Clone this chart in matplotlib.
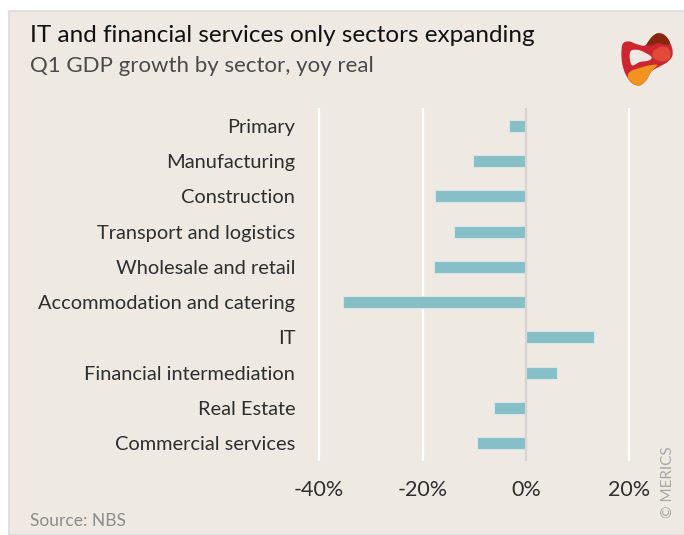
import matplotlib.pyplot as plt
from matplotlib.patches import Rectangle, PathPatch
from matplotlib.path import Path
import numpy as np

# data
sectors = ["Primary", "Manufacturing", "Construction", "Transport and logistics",
           "Wholesale and retail", "Accommodation and catering", "IT",
           "Financial intermediation", "Real Estate", "Commercial services"]
growth = [-3.2, -10.2, -17.5, -14.0, -17.8, -35.3, 13.2, 6.0, -6.1, -9.4]
xticks = [-40, -20, 0, 20]
xtick_labels = ["-40%", "-20%", "0%", "20%"]

BG = "#EEE9E3"
BAR = "#86BFC6"
TXT = "#2e2e2e"
GREY = "#8c8c8c"

plt.rcParams['font.family'] = ['Lato', 'DejaVu Sans']

W, H = 684, 535
fig = plt.figure(figsize=(W / 100, H / 100), dpi=100)
fig.patch.set_facecolor("white")

# beige panel with thin border
fig.patches.append(Rectangle((9 / W, 0), 1, (H - 11) / H, transform=fig.transFigure,
                             facecolor=BG, edgecolor="#dcdcdc", lw=1.2, zorder=-10))

ax = fig.add_axes([303.5 / W, 74 / H, 341.5 / W, 353 / H])
ax.set_facecolor("none")
y = np.arange(len(sectors))
ax.barh(y, growth, height=0.34, color=BAR, edgecolor="#d8e6e6", linewidth=0.8, zorder=3)
ax.set_xlim(-43, 23)
ax.set_ylim(len(sectors) - 0.5, -0.5)

for t in xticks:
    if t == 0:
        ax.axvline(t, color="#d6d3d0", lw=1.6, zorder=4)
    else:
        ax.axvline(t, color="white", lw=1.6, zorder=1)

for s in ax.spines.values():
    s.set_visible(False)
ax.set_yticks(y)
ax.set_yticklabels(sectors, fontsize=14.4, color=TXT)
ax.set_xticks(xticks)
ax.set_xticklabels(xtick_labels, fontsize=15.5, color=TXT)
ax.tick_params(length=0)
ax.tick_params(axis="y", pad=6)
ax.tick_params(axis="x", pad=14)

fig.text(30 / W, 1 - 36 / H, "IT and financial services only sectors expanding",
         fontsize=17.5, color="#111111", va="center", ha="left")
fig.text(30 / W, 1 - 66 / H, "Q1 GDP growth by sector, yoy real",
         fontsize=16, color="#4a4a4a", va="center", ha="left")
fig.text(30 / W, 1 - 521 / H, "Source: NBS", fontsize=12.5, color=GREY, va="center",
         ha="left")
fig.text(668 / W, 1 - 482 / H, "© MERICS", fontsize=11, color="#a8a8a8",
         rotation=90, va="center", ha="center")


def blob(pts, n=240):
    # smooth closed curve through control points (Catmull-Rom), logo only
    p = np.array(pts, float)
    out = []
    k = len(p)
    for i in range(k):
        p0, p1, p2, p3 = p[i - 1], p[i], p[(i + 1) % k], p[(i + 2) % k]
        for t in np.linspace(0, 1, n // k, endpoint=False):
            out.append(0.5 * ((2 * p1) + (-p0 + p2) * t +
                              (2 * p0 - 5 * p1 + 4 * p2 - p3) * t ** 2 +
                              (-p0 + 3 * p1 - 3 * p2 + p3) * t ** 3))
    out.append(out[0])
    return Path(np.array(out), closed=True)


lax = fig.add_axes([615 / W, 1 - 90 / H, 64 / W, 62 / H])
lax.set_xlim(0, 1)
lax.set_ylim(0, 1)
lax.axis("off")
outer = [(0.115, 0.73), (0.21, 0.785), (0.34, 0.74), (0.47, 0.72), (0.57, 0.85),
         (0.67, 0.914), (0.78, 0.88), (0.875, 0.73), (0.9, 0.57), (0.83, 0.46),
         (0.70, 0.38), (0.57, 0.30), (0.495, 0.167), (0.39, 0.075), (0.26, 0.113),
         (0.156, 0.274), (0.104, 0.49)]
orange = [(0.24, 0.30), (0.40, 0.36), (0.55, 0.40), (0.66, 0.40), (0.57, 0.30),
          (0.495, 0.167), (0.39, 0.075), (0.28, 0.10), (0.2, 0.2)]
brown = [(0.495, 0.73), (0.573, 0.85), (0.667, 0.914), (0.78, 0.88), (0.86, 0.76),
         (0.78, 0.73), (0.677, 0.758), (0.573, 0.72)]
pink = [(0.6, 0.62), (0.72, 0.7), (0.84, 0.66), (0.86, 0.52), (0.74, 0.46), (0.6, 0.52)]
hole = [(0.25, 0.634), (0.365, 0.645), (0.48, 0.597), (0.573, 0.527), (0.52, 0.473),
        (0.39, 0.452), (0.27, 0.398), (0.23, 0.516)]
lax.add_patch(PathPatch(blob(outer), facecolor="#cc2630", edgecolor="none"))
lax.add_patch(PathPatch(blob(pink), facecolor="#e04a3a", edgecolor="none"))
lax.add_patch(PathPatch(blob(orange), facecolor="#f29320", edgecolor="none"))
lax.add_patch(PathPatch(blob(brown), facecolor="#86260f", edgecolor="none"))
lax.add_patch(PathPatch(blob(hole), facecolor=BG, edgecolor="none"))

fig.savefig("out.png", dpi=100, facecolor=fig.get_facecolor())
